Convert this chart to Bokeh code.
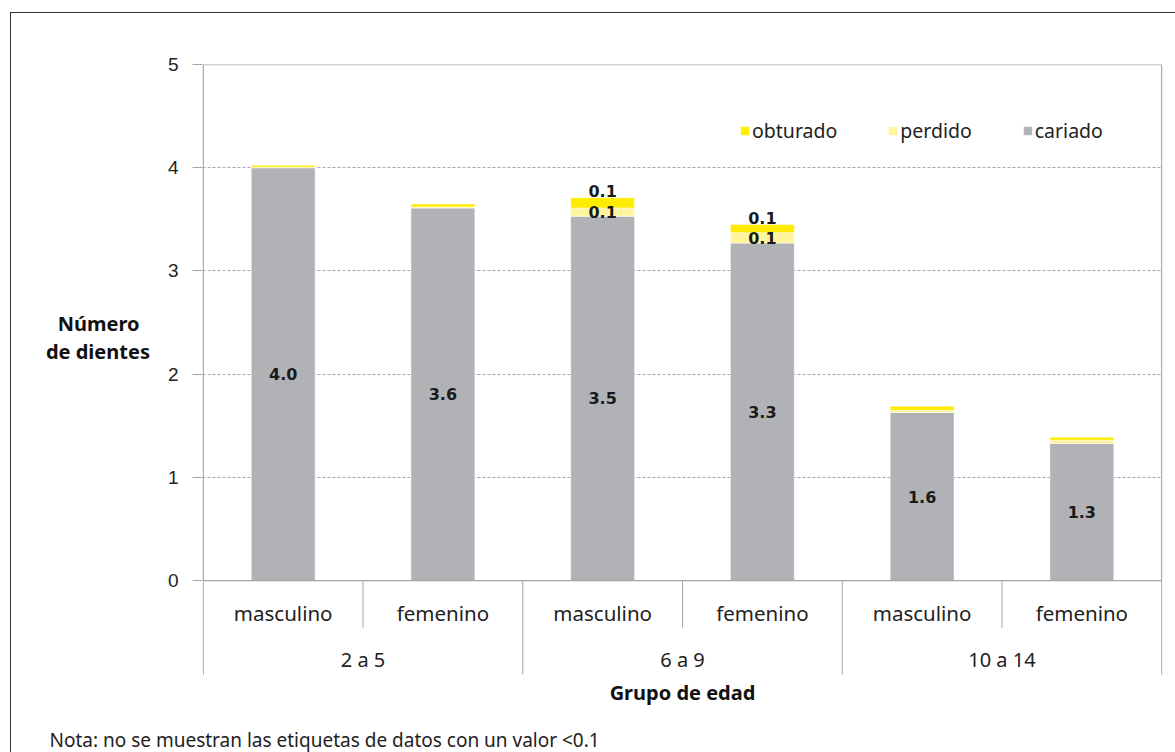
from bokeh.plotting import figure
from bokeh.models import (FactorRange, Range1d, FixedTicker, Legend, LegendItem,
                          ColumnDataSource, Title)
from bokeh.core.properties import value
from bokeh.embed import file_html
from bokeh.resources import INLINE

# ---- data ----
groups = ["2 a 5", "6 a 9", "10 a 14"]
sexes = ["masculino", "femenino"]
cariado = [4.00, 3.61, 3.53, 3.27, 1.63, 1.33]
perdido = [0.005, 0.01, 0.08, 0.10, 0.02, 0.03]
obturado = [0.02, 0.03, 0.10, 0.08, 0.04, 0.03]
y_ticks = [0, 1, 2, 3, 4, 5]
grid_ticks = [1, 2, 3, 4]
y_title = "Número\u00a0\u00a0\nde dientes"
x_title = "Grupo de edad"
note = "Nota: no se muestran las etiquetas de datos con un valor <0.1"

GRAY = "#B1B2B6"
YEL = "#FFEC00"
LYEL = "#FFF59C"
LINE = "#A6A6A6"

factors = [(g, s) for g in groups for s in sexes]
src = ColumnDataSource(dict(x=factors, cariado=cariado, perdido=perdido, obturado=obturado))

FRAME_TOP, FRAME_BOTTOM, ZERO = 64, 725, 581
x_range = FactorRange(*factors, factor_padding=0, group_padding=0,
                      range_padding=0.005, range_padding_units="absolute")
PX_PER_UNIT = (ZERO - FRAME_TOP) / 5.0
y_min = 5 - (FRAME_BOTTOM - FRAME_TOP) / PX_PER_UNIT
p = figure(width=1175, height=752, x_range=x_range, y_range=Range1d(y_min, 5),
           output_backend="svg", toolbar_location=None, x_axis_location=None,
           min_border_left=202, min_border_right=13, min_border_top=FRAME_TOP,
           min_border_bottom=752 - FRAME_BOTTOM)
p.outline_line_color = None
p.background_fill_color = "white"
p.border_fill_color = None
p.styles = {
    "background": "linear-gradient(#333,#333) 10px 12px / 1px 760px no-repeat, "
                  "linear-gradient(#333,#333) 10px 12px / 1200px 1px no-repeat, white"
}

# y axis
ax = p.yaxis[0]
ax.ticker = FixedTicker(ticks=y_ticks)
ax.axis_line_color = None
ax.major_tick_out = 10
ax.major_tick_in = 0
ax.major_tick_line_color = LINE
ax.minor_tick_line_color = None
ax.major_label_text_font = "Liberation Sans"
ax.major_label_text_font_size = "19px"
ax.major_label_text_color = "#222222"
ax.major_label_standoff = 14
ax.axis_label = y_title + "\n \n \n \n "
ax.axis_label_orientation = "horizontal"
ax.axis_label_text_font = "Noto Sans"
ax.axis_label_text_font_size = "20px"
ax.axis_label_text_font_style = "bold"
ax.axis_label_text_color = "#111111"
ax.axis_label_text_align = "center"
ax.axis_label_text_line_height = 1.05
ax.axis_label_standoff = 15

p.xgrid.visible = False
p.ygrid.ticker = FixedTicker(ticks=grid_ticks)
p.ygrid.grid_line_color = LINE
p.ygrid.grid_line_dash = "3 2"
p.ygrid.grid_line_width = 1

# bars
r = p.vbar_stack(["cariado", "perdido", "obturado"], x="x", width=0.4, source=src,
                 color=[GRAY, LYEL, YEL], line_color="white", line_width=0.5)

# plot area outline and category axis lines
n = len(factors)
p.segment(x0=[0, 0, n, 0], y0=[0, 5, 0, 0], x1=[0, n, n, n], y1=[5, 5, 5, 0],
          line_color=LINE, line_width=1.3)
sub_len = (628 - ZERO) / PX_PER_UNIT
grp_len = (675 - ZERO) / PX_PER_UNIT
p.segment(x0=[1, 3, 5], y0=[0, 0, 0], x1=[1, 3, 5], y1=[-sub_len] * 3, line_color=LINE)
p.segment(x0=[0, 2, 4, 6], y0=[0] * 4, x1=[0, 2, 4, 6], y1=[-grp_len] * 4, line_color=LINE)

# category labels
y_sub = -(613 - ZERO) / PX_PER_UNIT
y_grp = -(660 - ZERO) / PX_PER_UNIT
y_xt = -(693 - ZERO) / PX_PER_UNIT
p.text(x=factors, y=[y_sub] * n, text=[s for g, s in factors], text_align="center",
       text_baseline="middle", text_font=value("Noto Sans"), text_font_size="20.5px",
       text_color="#222222")
p.text(x=groups, y=[y_grp] * len(groups), text=groups, text_align="center",
       text_baseline="middle", text_font=value("Noto Sans"), text_font_size="20px",
       text_color="#222222")
p.text(x=[n / 2], y=[y_xt], text=[x_title], text_align="center", text_baseline="middle",
       text_font=value("Noto Sans"), text_font_size="20px", text_font_style="bold",
       text_color="#111111")

# data labels
lab_font = value("DejaVu Sans")
cy = [c / 2 for c in cariado]
p.text(x=factors, y=cy, text=[f"{c:.1f}" for c in cariado], text_align="center",
       text_baseline="middle", text_font=lab_font, text_font_size="16px",
       text_font_style="bold", text_color="#1a1a1a")
px, py, pt = [], [], []
ox, oy, ot = [], [], []
for f, c, pv, ov in zip(factors, cariado, perdido, obturado):
    if round(pv, 1) >= 0.1:
        px.append(f); py.append(c + pv / 2); pt.append(f"{pv:.1f}")
    if round(ov, 1) >= 0.1:
        ox.append(f); oy.append(c + pv + ov); ot.append(f"{ov:.1f}")
p.text(x=px, y=py, text=pt, text_align="center", text_baseline="middle",
       text_font=lab_font, text_font_size="16px", text_font_style="bold", text_color="#1a1a1a")
p.text(x=ox, y=oy, text=ot, text_align="center", text_baseline="bottom", y_offset=-1,
       text_font=lab_font, text_font_size="16px", text_font_style="bold", text_color="#1a1a1a")

# legend
legend = Legend(items=[LegendItem(label="obturado", renderers=[r[2]]),
                       LegendItem(label="perdido", renderers=[r[1]]),
                       LegendItem(label="cariado", renderers=[r[0]])],
                orientation="horizontal", location=(537, 580), padding=1,
                spacing=50, glyph_width=11, glyph_height=11, label_standoff=2,
                label_text_font="Noto Sans", label_text_font_size="19.5px",
                label_text_color="#222222", border_line_color=None,
                background_fill_alpha=0)
p.add_layout(legend)

# note
p.add_layout(Title(text=note, align="left", offset=-153, standoff=0,
                   text_font="Noto Sans", text_font_size="19px", text_font_style="normal",
                   text_color="#222222"), "below")

open("out.html", "w").write(file_html(p, INLINE))
